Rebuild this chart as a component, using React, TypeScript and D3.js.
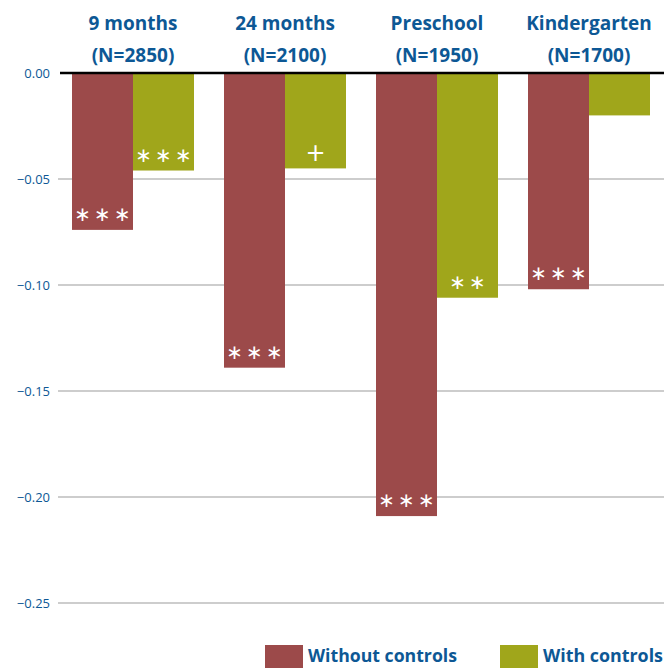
import React from "react";
import * as d3 from "d3";

const groups = ["9 months", "24 months", "Preschool", "Kindergarten"];
const groupN = ["(N=2850)", "(N=2100)", "(N=1950)", "(N=1700)"];
const series = ["Without controls", "With controls"];
const withoutControls = [-0.074, -0.139, -0.209, -0.102];
const withControls = [-0.046, -0.045, -0.106, -0.02];
const sigWithout = ["***", "***", "***", "***"];
const sigWith = ["***", "+", "**", ""];
const yTicks = [0, -0.05, -0.1, -0.15, -0.2, -0.25];

const W = 672;
const H = 668;
const RED = "#9c4a4a";
const GREEN = "#a0a61b";
const BLUE = "#0d5895";

export default function App() {
  const y = d3.scaleLinear().domain([0, -0.25]).range([73, 603]);
  const x0 = d3.scaleBand().domain(groups).range([57, 665]).paddingInner(0.0).paddingOuter(0);
  const x1 = d3.scaleBand().domain(series).range([0, 122]);
  const gOff = (x0.bandwidth() - 122) / 2;
  const colors = [RED, GREEN];
  const vals = [withoutControls, withControls];
  const sigs = [sigWithout, sigWith];
  const font = "'Open Sans', 'DejaVu Sans', sans-serif";
  const LS = 3;

  return (
    <svg width={W} height={H} style={{ position: "absolute", left: 0, top: 0, background: "#fff" }}>
      {yTicks.map((t, i) => (
        <g key={i}>
          {i > 0 && (
            <line x1={58} x2={664} y1={y(t)} y2={y(t)} stroke="#bdbdbd" strokeWidth={1.6} />
          )}
          <text x={50} y={y(t)} dy="0.35em" textAnchor="end" fontSize={13} fill={BLUE} fontFamily={font}>
            {d3.format(".2f")(t)}
          </text>
        </g>
      ))}
      {groups.map((g, gi) => (
        <g key={g} transform={`translate(${(x0(g) as number) + gOff},0)`}>
          {series.map((s, si) => {
            const v = vals[si][gi];
            const bx = x1(s) as number;
            const sig = sigs[si][gi];
            const isPlus = sig === "+";
            return (
              <g key={s}>
                <rect x={bx} y={y(0)} width={x1.bandwidth()} height={y(v) - y(0)} fill={colors[si]} />
                {sig && (
                  <text
                    x={bx + x1.bandwidth() / 2}
                    y={y(v) - 16}
                    dx={isPlus ? 0 : LS / 2}
                    dy="0.35em"
                    textAnchor="middle"
                    fill="#fff"
                    fontSize={isPlus ? 24 : 20}
                    letterSpacing={isPlus ? 0 : LS}
                    fontFamily="'DejaVu Sans', sans-serif"
                  >
                    {isPlus ? "+" : sig.replace(/\*/g, "\u2217")}
                  </text>
                )}
              </g>
            );
          })}
          <text x={61} y={30} textAnchor="middle" fontSize={19} fontWeight="bold" fill={BLUE} fontFamily={font}>
            {g}
          </text>
          <text x={61} y={62} textAnchor="middle" fontSize={19} fontWeight="bold" fill={BLUE} fontFamily={font}>
            {groupN[gi]}
          </text>
        </g>
      ))}
      <line x1={60} x2={664} y1={y(0)} y2={y(0)} stroke="#000" strokeWidth={2.5} />
      {series.map((s, si) => {
        const lx = si === 0 ? 265 : 500;
        return (
          <g key={s}>
            <rect x={lx} y={645} width={38} height={24} fill={colors[si]} />
            <text x={lx + 43} y={662} fontSize={18} fontWeight="bold" fill={BLUE} fontFamily={font} textLength={si === 0 ? 149 : 120} lengthAdjust="spacingAndGlyphs">
              {s}
            </text>
          </g>
        );
      })}
    </svg>
  );
}
